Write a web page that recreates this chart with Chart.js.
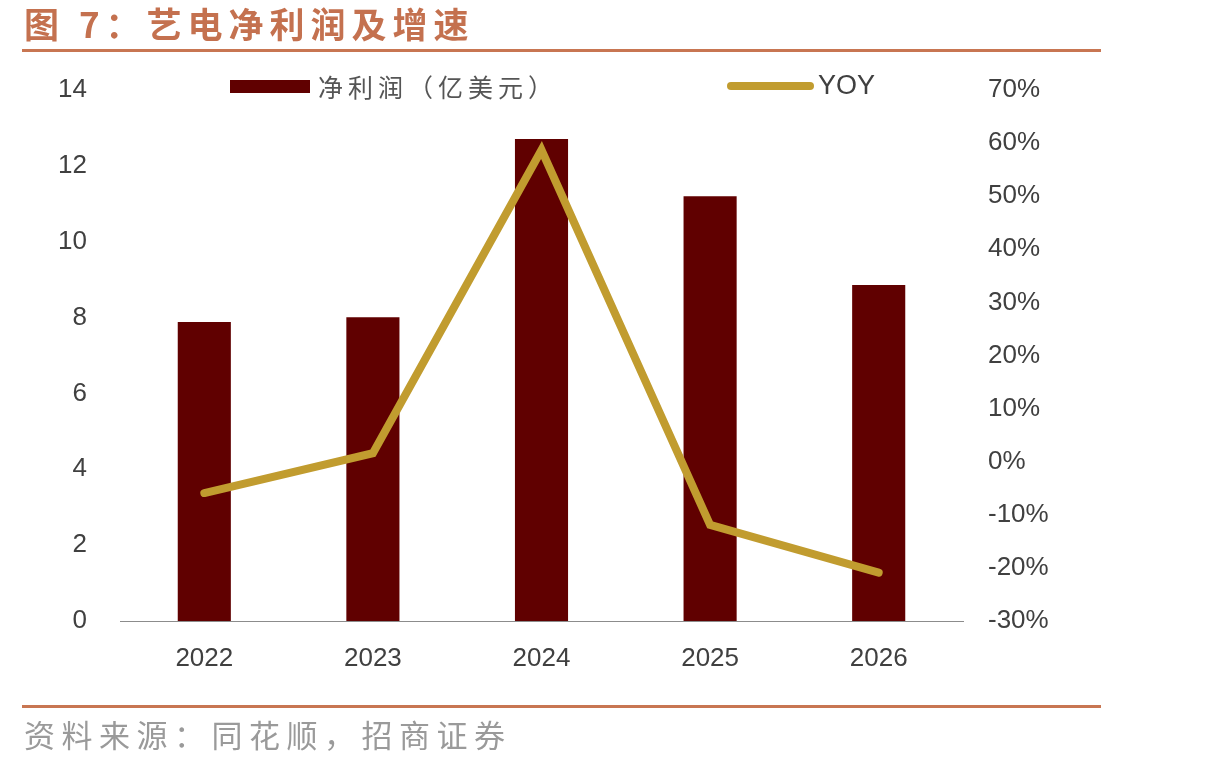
<!DOCTYPE html>
<html><head><meta charset="utf-8">
<script src="https://cdn.jsdelivr.net/npm/chart.js@4.4.0/dist/chart.umd.min.js"></script>
<style>
html,body{margin:0;padding:0;background:#fff;}
#wrap{position:relative;width:1209px;height:767px;overflow:hidden;}
#title{position:absolute;left:24px;top:-1px;font-family:"Noto Sans CJK SC";font-weight:bold;font-size:35px;color:#C4714F;line-height:48px;letter-spacing:6px;white-space:nowrap;}
.rule{position:absolute;left:22px;width:1079px;height:3px;background:#C87652;}
#src{position:absolute;left:24px;top:712px;font-family:"Noto Sans CJK SC";font-size:31px;color:#9a9a9a;line-height:44px;letter-spacing:6.5px;white-space:nowrap;}
canvas{position:absolute;left:0;top:0;}
</style></head>
<body><div id="wrap">
<canvas id="c" width="1209" height="767"></canvas>
<div id="title">图 7：艺电净利润及增速</div>
<div class="rule" style="top:49px"></div>
<div class="rule" style="top:705px"></div>
<div id="src">资料来源：同花顺，招商证券</div>
</div>
<script>
const categories = ["2022","2023","2024","2025","2026"];
const netProfit = [7.88, 8.01, 12.71, 11.20, 8.86];
const yoy = [-5.9, 1.6, 58.7, -11.9, -20.9];
const barLabel = "净利润（亿美元）";
const lineLabel = "YOY";

const tickFont = {family:"'Liberation Sans', Arial, sans-serif", size:26};
const tickColor = "#404040";

const legendPlugin = {
  id:'customLegend',
  afterDraw(chart){
    const ctx = chart.ctx;
    const bar = chart.data.datasets.find(d=>d.type==='bar');
    const line = chart.data.datasets.find(d=>d.type==='line');
    ctx.save();
    ctx.fillStyle = bar.backgroundColor;
    ctx.fillRect(230, 80, 80, 13);
    ctx.fillStyle = "#555555";
    ctx.font = "25px 'Noto Sans CJK SC'";
    ctx.letterSpacing = "5px";
    ctx.textBaseline = "middle";
    ctx.textAlign = "left";
    ctx.fillText(bar.label, 318, 87);
    ctx.letterSpacing = "0px";
    ctx.strokeStyle = line.borderColor;
    ctx.lineWidth = 8;
    ctx.lineCap = "round";
    ctx.beginPath(); ctx.moveTo(731, 86); ctx.lineTo(810, 86); ctx.stroke();
    ctx.fillStyle = tickColor;
    ctx.font = "27px 'Liberation Sans', Arial, sans-serif";
    ctx.fillText(line.label, 818, 87);
    ctx.restore();
  }
};

new Chart(document.getElementById('c'), {
  data:{
    labels: categories,
    datasets:[
      {type:'line', label: lineLabel, data: yoy, yAxisID:'y1', borderColor:'#C19C2F', borderWidth:8,
       pointRadius:0, borderCapStyle:'round', borderJoinStyle:'miter', tension:0, order:0},
      {type:'bar', label: barLabel, data: netProfit, yAxisID:'y', backgroundColor:'#600000',
       barPercentage:0.63, categoryPercentage:0.5, order:1}
    ]
  },
  options:{
    responsive:false, animation:false,
    layout:{padding:{top:90, left:0, right:0, bottom:0}},
    plugins:{legend:{display:false}, tooltip:{enabled:false}},
    scales:{
      x:{grid:{display:false, drawTicks:false}, border:{display:true, color:'#8c8c8c', width:1},
         ticks:{font:tickFont, color:tickColor, padding:22},
         afterFit(s){ s.height = 146; }},
      y:{position:'left', min:0, max:14, grid:{display:false, drawTicks:false}, border:{display:false},
         ticks:{stepSize:2, font:tickFont, color:tickColor, padding:33},
         afterFit(s){ s.width = 120; }},
      y1:{position:'right', min:-30, max:70, grid:{display:false, drawTicks:false}, border:{display:false},
         ticks:{stepSize:10, font:tickFont, color:tickColor, padding:25, callback:v=>v+'%'},
         afterFit(s){ s.width = 1209-963; }}
    }
  },
  plugins:[legendPlugin]
});
</script>
</body></html>
